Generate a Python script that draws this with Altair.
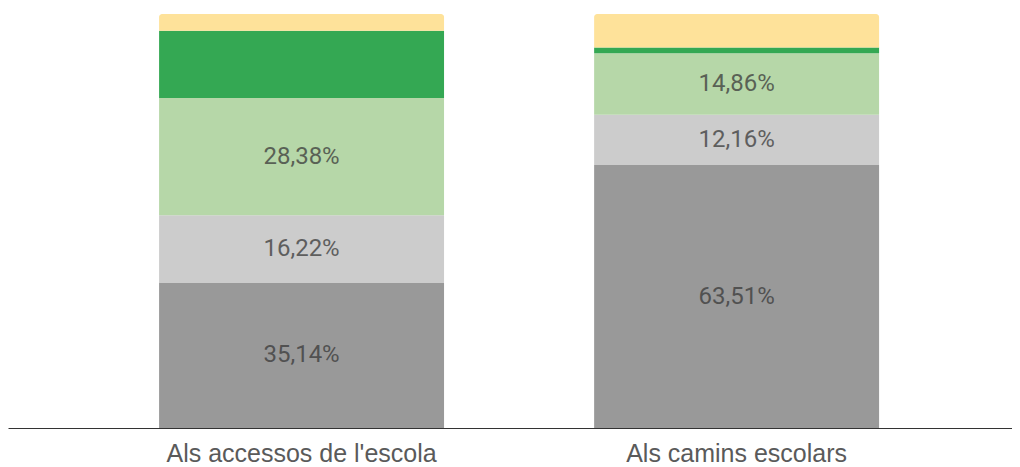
import altair as alt
import pandas as pd

groups = ["Als accessos de l'escola", "Als camins escolars"]
series = ["s1", "s2", "s3", "s4", "s5"]
colors = ["#999999", "#cccccc", "#b6d7a8", "#34a853", "#fee29a"]
values_a = [35.14, 16.22, 28.38, 16.22, 4.05]
values_b = [63.51, 12.16, 14.86, 1.35, 8.11]
labels_a = ["35,14%", "16,22%", "28,38%", "", ""]
labels_b = ["63,51%", "12,16%", "14,86%", "", ""]

rows = []
for g, vals, labs in [(groups[0], values_a, labels_a), (groups[1], values_b, labels_b)]:
    for i, (s, v, l) in enumerate(zip(series, vals, labs)):
        rows.append({"group": g, "series": s, "order": i, "value": v, "label": l,
                     "top": i == len(series) - 1})
df = pd.DataFrame(rows)

xenc = alt.X("group:N", sort=groups,
             scale=alt.Scale(paddingInner=0.345, paddingOuter=0.3264, align=0.532),
             axis=alt.Axis(title=None, labelAngle=0, ticks=False, labelPadding=13, labelLimit=0,
                           labelFont="Liberation Sans", labelFontSize=25, labelColor="#5a5a5a",
                           domainColor="#333333", domainWidth=1))
yscale = alt.Scale(domain=[0, 100], nice=False, zero=True)
color = alt.Color("series:N", scale=alt.Scale(domain=series, range=colors), legend=None)

base = alt.Chart(df).transform_stack(
    stack="value", groupby=["group"], sort=[alt.SortField("order")], as_=["y0", "y1"]
).transform_calculate(mid="(datum.y0 + datum.y1) / 2")

bars = base.transform_filter("!datum.top").mark_bar().encode(
    x=xenc,
    y=alt.Y("y0:Q", scale=yscale, axis=None),
    y2="y1:Q",
    color=color,
)
tops = base.transform_filter("datum.top").mark_bar(cornerRadiusTopLeft=3, cornerRadiusTopRight=3).encode(
    x=xenc,
    y=alt.Y("y0:Q", scale=yscale, axis=None),
    y2="y1:Q",
    color=color,
)
text = base.transform_filter("datum.label != ''").mark_text(
    font="Roboto", fontSize=24, color="#3a3a3a", opacity=0.75, baseline="middle"
).encode(
    x=alt.X("group:N", sort=groups),
    y=alt.Y("mid:Q", scale=yscale),
    text="label:N",
)

chart = alt.layer(bars, tops, text).properties(
    width=1004, height=414, padding={"left": 0, "top": 5, "right": 0, "bottom": 0}
).configure(background="white").configure_view(strokeWidth=0, stroke=None)

chart.save("out.html", embed_options={"renderer": "svg", "actions": False})
